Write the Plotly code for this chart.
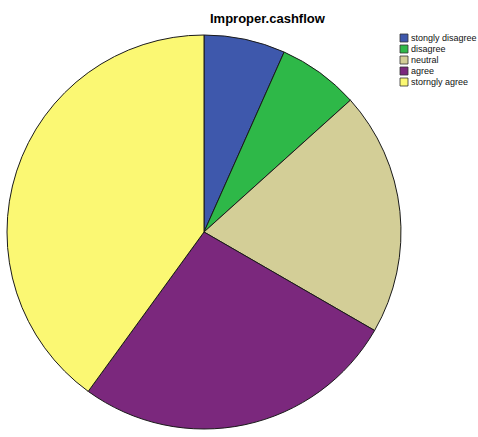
import plotly.graph_objects as go

categories = ["stongly disagree", "disagree", "neutral", "agree", "storngly agree"]
counts = [5, 5, 15, 20, 30]
colors = ["#3E58AC", "#2EB848", "#D3CE97", "#7B287D", "#FBF873"]
title_text = "Improper.cashflow"

W, H = 478, 437
cx, cy, r = 204, 232, 197

fig = go.Figure(go.Pie(
    labels=categories,
    values=counts,
    sort=False,
    direction="clockwise",
    rotation=0,
    textinfo="none",
    hoverinfo="label+value+percent",
    marker=dict(colors=colors, line=dict(color="#1a1a1a", width=1)),
    domain=dict(x=[(cx - r) / W, (cx + r) / W],
                y=[(H - cy - r) / H, (H - cy + r) / H]),
    showlegend=False,
))

shapes = []
annotations = []
row_y = [38, 49, 60, 71, 82]
for name, col, yc in zip(categories, colors, row_y):
    shapes.append(dict(type="rect", xref="paper", yref="paper",
                       x0=400 / W, x1=408 / W,
                       y0=(H - yc - 4) / H, y1=(H - yc + 4) / H,
                       fillcolor=col, line=dict(color="#333333", width=0.8)))
    annotations.append(dict(text=name, xref="paper", yref="paper",
                            x=409 / W, y=(H - yc) / H, xanchor="left", yanchor="middle",
                            showarrow=False,
                            font=dict(family="Liberation Sans, Arial", size=9, color="#111111")))

annotations.append(dict(text="<b>" + title_text + "</b>", xref="paper", yref="paper",
                        x=268 / W, y=(H - 19) / H, xanchor="center", yanchor="middle",
                        showarrow=False,
                        font=dict(family="Liberation Sans, Arial", size=13, color="#000000")))

fig.update_layout(
    width=W, height=H,
    margin=dict(l=0, r=0, t=0, b=0),
    paper_bgcolor="white",
    plot_bgcolor="white",
    shapes=shapes,
    annotations=annotations,
)

fig.write_html("out.html")
